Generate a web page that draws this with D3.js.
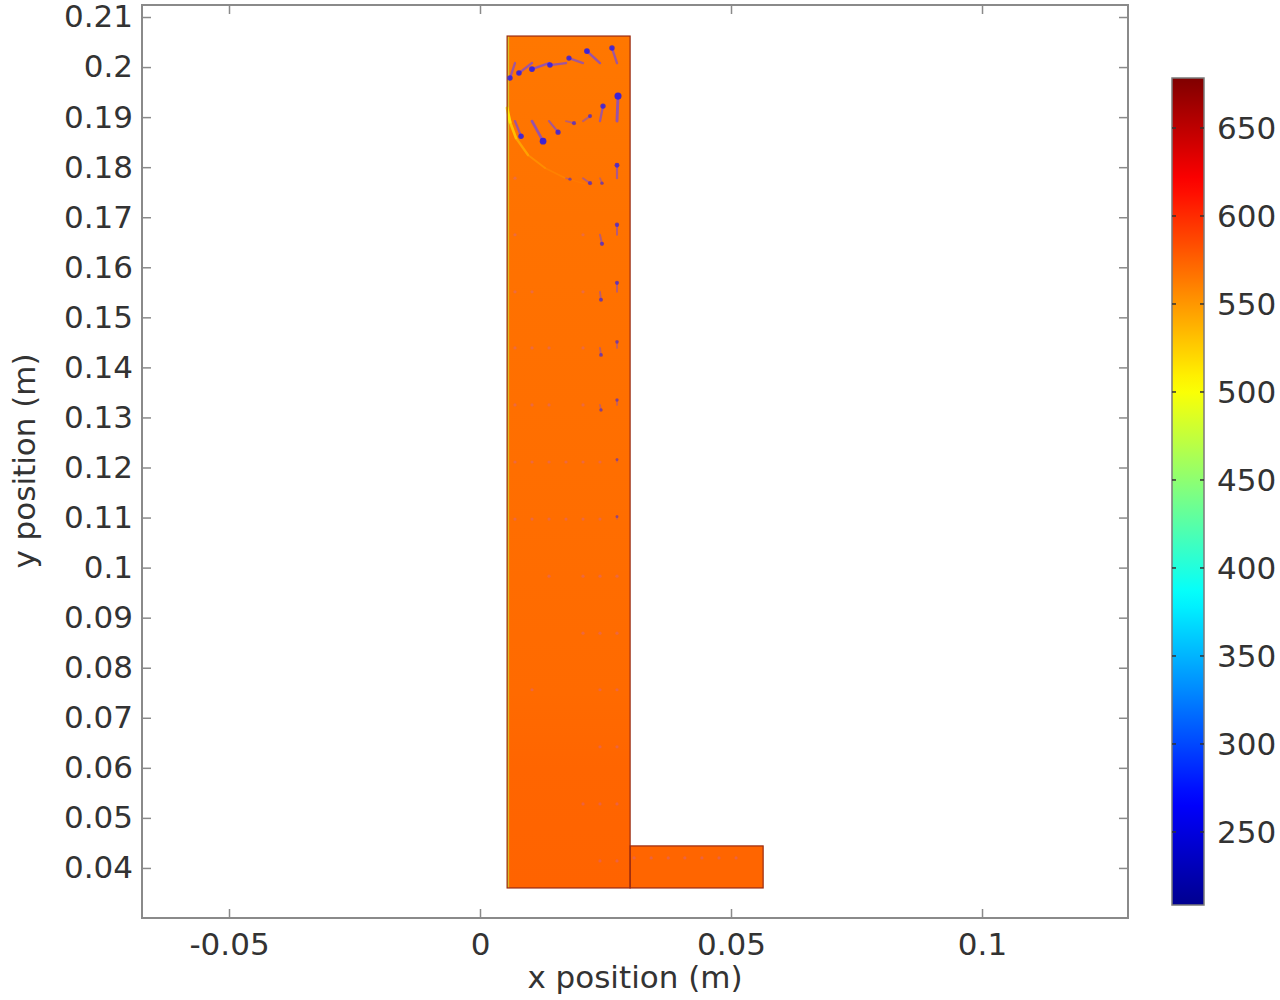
<!DOCTYPE html>
<html>
<head>
<meta charset="utf-8">
<script src="https://cdn.jsdelivr.net/npm/d3@7"></script>
<style>
  body { margin: 0; background: #fff; }
  svg text { font-family: "DejaVu Sans", sans-serif; }
</style>
</head>
<body>
<script>
'use strict';

// axis limits
const xLimits = [-0.06733, 0.12908];
const yLimits = [0.0300, 0.2124];
const tempLimits = [208.5, 678.4];

const xTicks = [-0.05, 0, 0.05, 0.1];
const yTicks = [0.04, 0.05, 0.06, 0.07, 0.08, 0.09, 0.1, 0.11, 0.12, 0.13,
                0.14, 0.15, 0.16, 0.17, 0.18, 0.19, 0.2, 0.21];
const tempTicks = [250, 300, 350, 400, 450, 500, 550, 600, 650];

// jet colour map: stop positions (fraction of range) and colours
const cmapPos = [0, 0.125, 0.375, 0.625, 0.875, 1];
const cmapColors = ["#00008f", "#0000ff", "#00ffff", "#ffff00", "#ff0000", "#800000"];

// solid blocks (m)
const blockX0 = [0.0054, 0.0299];
const blockX1 = [0.0299, 0.0564];
const blockY0 = [0.0360, 0.0360];
const blockY1 = [0.2062, 0.0444];

// temperature (K) up the height of the tall block
const profileY = [0.036, 0.060, 0.075, 0.120, 0.170, 0.206];
const profileT = [574, 573, 571, 569, 567, 565];
const footT = 573;
const wallT = 470;
const wallX = [0.0054, 0.0058];

// cooler plume peeling off the left wall
const plumeX = [0.00538, 0.00598, 0.00717, 0.00956, 0.01295, 0.01693, 0.02092];
const plumeY = [0.19182, 0.18903, 0.18583, 0.18243, 0.17984, 0.17784, 0.17664];
const plumeT = [498, 510, 526, 540, 550, 556, 561];

// velocity arrows: grid (m) and components [col, row, u, v] (mm)
const arrowCols = [0.00697, 0.01036, 0.01375, 0.01713, 0.02052, 0.02390, 0.02729];
const arrowRows = [0.2008, 0.1892, 0.1778, 0.1665, 0.1551, 0.1439, 0.1325, 0.1211,
                   0.1097, 0.0983, 0.0869, 0.0756, 0.0642, 0.0528, 0.0414];
const arrows = [
  [0, 0, -1.0, -3.0], [1, 0, -2.6, -2.0], [2, 0, -3.4, -1.2], [3, 0, -3.2, -0.4],
  [4, 0, -2.8, 1.0], [5, 0, -2.6, 2.4], [6, 0, -1.0, 3.0],
  [0, 1, 1.2, -3.0], [1, 1, 2.2, -4.0], [2, 1, 1.8, -2.2], [3, 1, 1.6, -0.4],
  [4, 1, 1.4, 1.0], [5, 1, 0.6, 3.0], [6, 1, 0.2, 5.0],
  [0, 2, 0.1, 0], [3, 2, 0.8, -0.2], [4, 2, 1.4, -1.0], [5, 2, 0.4, -1.0], [6, 2, 0, 2.6],
  [0, 3, 0.1, 0], [4, 3, 0.3, -0.3], [5, 3, 0.4, -1.8], [6, 3, 0, 2.0],
  [0, 4, 0.1, 0], [1, 4, 0.1, 0], [4, 4, 0.2, -0.3], [5, 4, 0.2, -1.6], [6, 4, 0, 1.8],
  [0, 5, 0.1, 0], [1, 5, 0.1, 0], [2, 5, 0.1, 0], [4, 5, 0.2, -0.2], [5, 5, 0.2, -1.4], [6, 5, 0, 1.2],
  [0, 6, 0.1, 0], [1, 6, 0.1, 0], [2, 6, 0.1, 0], [4, 6, 0.2, -0.2], [5, 6, 0.2, -1.0], [6, 6, 0, 1.0],
  [0, 7, 0.1, 0], [1, 7, 0.1, 0], [2, 7, 0.1, 0], [3, 7, 0.1, 0], [4, 7, 0.1, -0.3], [5, 7, 0.1, -0.3], [6, 7, 0, 0.5],
  [0, 8, 0.1, 0], [1, 8, 0.1, 0], [2, 8, 0.1, 0], [3, 8, 0.1, 0], [4, 8, 0.1, -0.2], [5, 8, 0.1, -0.2], [6, 8, 0, 0.5],
  [2, 9, 0.1, 0], [4, 9, 0.1, -0.2], [5, 9, 0.1, -0.2], [6, 9, 0, 0.4],
  [4, 10, 0.1, -0.1], [5, 10, 0.1, -0.1], [6, 10, 0, 0.4],
  [1, 11, 0.1, 0], [5, 11, 0.1, 0], [6, 11, 0, 0.3],
  [5, 12, 0.1, 0], [6, 12, 0, 0.2],
  [4, 13, 0.1, 0], [5, 13, 0.1, 0], [6, 13, 0, 0.2],
  [5, 14, 0.1, 0], [6, 14, 0.1, 0]
];
const footArrowX = [0.0307, 0.0341, 0.0375, 0.0408, 0.0442, 0.0476, 0.0510];
const footArrowY = 0.0420;

let svgContainer = d3.select('body')
  .append('svg')
  .attr('width', 1280)
  .attr('height', 1000);

// plot frame in pixels
const frame = { left: 142, right: 1128, top: 5, bottom: 918 };
// colour bar in pixels
const bar = { left: 1172, right: 1204, top: 78, bottom: 905 };

const xScale = d3.scaleLinear().domain(xLimits).range([frame.left, frame.right]);
const yScale = d3.scaleLinear().domain(yLimits).range([frame.bottom, frame.top]);
const tScale = d3.scaleLinear().domain(tempLimits).range([bar.bottom, bar.top]);

const colorScale = d3.scaleLinear()
  .domain(cmapPos.map(p => tempLimits[0] + p * (tempLimits[1] - tempLimits[0])))
  .range(cmapColors)
  .clamp(true);

let defs = svgContainer.append('defs');

drawField();
drawArrows();
drawAxes();
drawColorBar();
makeLabels();

// temperature surface on the two blocks
function drawField() {
  let grad = defs.append('linearGradient')
    .attr('id', 'riserGrad')
    .attr('gradientUnits', 'userSpaceOnUse')
    .attr('x1', 0).attr('x2', 0)
    .attr('y1', yScale(profileY[0]))
    .attr('y2', yScale(profileY[profileY.length - 1]));

  let span = profileY[profileY.length - 1] - profileY[0];
  grad.selectAll('stop')
    .data(profileY)
    .enter()
    .append('stop')
    .attr('offset', d => (d - profileY[0]) / span)
    .attr('stop-color', (d, i) => colorScale(profileT[i]));

  svgContainer.selectAll('.block')
    .data(blockX0)
    .enter()
    .append('rect')
    .attr('class', 'block')
    .attr('x', (d, i) => xScale(blockX0[i]))
    .attr('y', (d, i) => yScale(blockY1[i]))
    .attr('width', (d, i) => xScale(blockX1[i]) - xScale(blockX0[i]))
    .attr('height', (d, i) => yScale(blockY0[i]) - yScale(blockY1[i]))
    .attr('fill', (d, i) => i == 0 ? 'url(#riserGrad)' : colorScale(footT));

  // cool strip along the left wall
  svgContainer.append('rect')
    .attr('x', xScale(wallX[0]))
    .attr('y', yScale(blockY1[0]))
    .attr('width', xScale(wallX[1]) - xScale(wallX[0]))
    .attr('height', yScale(blockY0[0]) - yScale(blockY1[0]))
    .attr('fill', colorScale(wallT))
    .attr('opacity', 0.55);

  // plume
  for (let i = 0; i < plumeX.length - 1; i++) {
    svgContainer.append('line')
      .attr('x1', xScale(plumeX[i]))
      .attr('y1', yScale(plumeY[i]))
      .attr('x2', xScale(plumeX[i + 1]))
      .attr('y2', yScale(plumeY[i + 1]))
      .attr('stroke', colorScale((plumeT[i] + plumeT[i + 1]) / 2))
      .attr('stroke-width', 3 - i * 0.35)
      .attr('stroke-linecap', 'round')
      .attr('opacity', 0.8 - i * 0.08);
  }

  // block outlines
  svgContainer.selectAll('.outline')
    .data(blockX0)
    .enter()
    .append('rect')
    .attr('class', 'outline')
    .attr('x', (d, i) => xScale(blockX0[i]))
    .attr('y', (d, i) => yScale(blockY1[i]))
    .attr('width', (d, i) => xScale(blockX1[i]) - xScale(blockX0[i]))
    .attr('height', (d, i) => yScale(blockY0[i]) - yScale(blockY1[i]))
    .attr('fill', 'none')
    .attr('stroke', '#9a2a10')
    .attr('stroke-width', 1.2);
}

// velocity arrows with round heads
function drawArrows() {
  let list = arrows.map(a => ({
    x: arrowCols[a[0]], y: arrowRows[a[1]], u: a[2], v: a[3]
  }));
  footArrowX.forEach(x => list.push({ x: x, y: footArrowY, u: 0.1, v: 0 }));

  let g = svgContainer.append('g');
  list.forEach(d => {
    let m = Math.hypot(d.u, d.v);
    let x0 = xScale(d.x), y0 = yScale(d.y);
    let x1 = xScale(d.x + d.u / 1000), y1 = yScale(d.y + d.v / 1000);
    if (m < 0.5) {
      g.append('circle')
        .attr('cx', x0).attr('cy', y0).attr('r', 1.6)
        .attr('fill', '#c060d0')
        .attr('opacity', 0.3);
      return;
    }
    let alpha = Math.min(0.9, 0.35 + m * 0.15);
    g.append('line')
      .attr('x1', x0).attr('y1', y0)
      .attr('x2', x1).attr('y2', y1)
      .attr('stroke', '#7046ec')
      .attr('stroke-width', 1.4 + m * 0.3)
      .attr('stroke-linecap', 'round')
      .attr('opacity', alpha * 0.8);
    g.append('circle')
      .attr('cx', x1).attr('cy', y1)
      .attr('r', 1.3 + m * 0.45)
      .attr('fill', '#2c1ce6')
      .attr('opacity', alpha);
  });
}

// boxed axes with inward ticks
function drawAxes() {
  const axisColor = '#8a8a8a';
  const tickLen = 9;
  const fmt = d => String(d);

  let bottom = svgContainer.append('g')
    .attr('transform', 'translate(0,' + frame.bottom + ')')
    .call(d3.axisBottom(xScale).tickValues(xTicks).tickFormat(fmt)
      .tickSizeInner(-tickLen).tickSizeOuter(0).tickPadding(15));

  let top = svgContainer.append('g')
    .attr('transform', 'translate(0,' + frame.top + ')')
    .call(d3.axisTop(xScale).tickValues(xTicks).tickFormat('')
      .tickSizeInner(-tickLen).tickSizeOuter(0));

  let left = svgContainer.append('g')
    .attr('transform', 'translate(' + frame.left + ',0)')
    .call(d3.axisLeft(yScale).tickValues(yTicks).tickFormat(fmt)
      .tickSizeInner(-tickLen).tickSizeOuter(0).tickPadding(9));

  let right = svgContainer.append('g')
    .attr('transform', 'translate(' + frame.right + ',0)')
    .call(d3.axisRight(yScale).tickValues(yTicks).tickFormat('')
      .tickSizeInner(-tickLen).tickSizeOuter(0));

  [bottom, top, left, right].forEach(g => {
    g.style('color', axisColor)
      .attr('font-size', 31)
      .attr('font-family', '"DejaVu Sans", sans-serif');
    g.select('.domain').remove();
    g.selectAll('.tick line').attr('stroke-width', 1.5);
    g.selectAll('text').attr('fill', '#333');
  });

  svgContainer.append('rect')
    .attr('x', frame.left)
    .attr('y', frame.top)
    .attr('width', frame.right - frame.left)
    .attr('height', frame.bottom - frame.top)
    .attr('fill', 'none')
    .attr('stroke', axisColor)
    .attr('stroke-width', 2);
}

// vertical colour legend
function drawColorBar() {
  let grad = defs.append('linearGradient')
    .attr('id', 'barGrad')
    .attr('x1', 0).attr('x2', 0)
    .attr('y1', 1).attr('y2', 0);

  grad.selectAll('stop')
    .data(d3.range(0, 1.0001, 0.02))
    .enter()
    .append('stop')
    .attr('offset', d => d)
    .attr('stop-color', d => colorScale(tempLimits[0] + d * (tempLimits[1] - tempLimits[0])));

  svgContainer.append('rect')
    .attr('x', bar.left)
    .attr('y', bar.top)
    .attr('width', bar.right - bar.left)
    .attr('height', bar.bottom - bar.top)
    .attr('fill', 'url(#barGrad)')
    .attr('stroke', '#7a7a7a')
    .attr('stroke-width', 1.5);

  let ticks = svgContainer.append('g').selectAll('g')
    .data(tempTicks)
    .enter()
    .append('g')
    .attr('transform', d => 'translate(0,' + tScale(d) + ')');

  ticks.append('line')
    .attr('x1', bar.left).attr('x2', bar.left + 4)
    .attr('stroke', '#333').attr('stroke-width', 1.5);
  ticks.append('line')
    .attr('x1', bar.right - 4).attr('x2', bar.right)
    .attr('stroke', '#333').attr('stroke-width', 1.5);

  ticks.append('text')
    .attr('x', 1217)
    .attr('dy', '0.36em')
    .attr('font-size', 31)
    .attr('fill', '#333')
    .text(d => d);
}

// axis titles
function makeLabels() {
  svgContainer.append('text')
    .attr('x', 635)
    .attr('y', 988)
    .attr('text-anchor', 'middle')
    .attr('font-size', 31)
    .attr('fill', '#333')
    .text('x position (m)');

  svgContainer.append('text')
    .attr('transform', 'translate(35, 461)rotate(-90)')
    .attr('text-anchor', 'middle')
    .attr('font-size', 31)
    .attr('fill', '#333')
    .text('y position (m)');
}
</script>
</body>
</html>
